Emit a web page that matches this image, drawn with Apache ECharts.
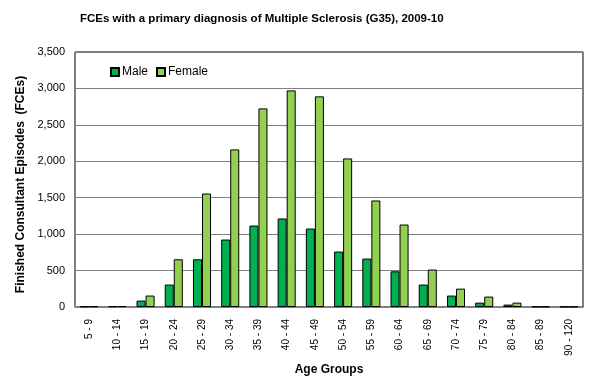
<!DOCTYPE html>
<html>
<head>
<meta charset="utf-8">
<script src="https://cdn.jsdelivr.net/npm/echarts@6/dist/echarts.min.js"></script>
<style>html,body{margin:0;padding:0;background:#fff;}#c{width:599px;height:378px;}</style>
</head>
<body>
<div id="c"></div>
<script>
const categories = ["5 - 9","10 - 14","15 - 19","20 - 24","25 - 29","30 - 34","35 - 39","40 - 44","45 - 49","50 - 54","55 - 59","60 - 64","65 - 69","70 - 74","75 - 79","80 - 84","85 - 89","90 - 120"];
const maleValues = [8, 10, 88, 308, 655, 926, 1118, 1215, 1077, 761, 665, 490, 308, 157, 60, 33, 6, 4];
const femaleValues = [10, 12, 157, 655, 1558, 2163, 2726, 2973, 2891, 2039, 1462, 1132, 514, 252, 143, 60, 6, 4];
const yTicks = [0, 500, 1000, 1500, 2000, 2500, 3000, 3500];

const chart = echarts.init(document.getElementById('c'), null, {renderer: 'canvas'});
const font = 'Arial, "Liberation Sans", sans-serif';
chart.setOption({
  animation: false,
  backgroundColor: '#fff',
  title: {
    text: 'FCEs with a primary diagnosis of Multiple Sclerosis (G35), 2009-10',
    left: 75, top: 8,
    textStyle: {fontFamily: font, fontSize: 11.5, fontWeight: 'bold', color: '#000'}
  },
  legend: {
    left: 105, top: 61,
    itemWidth: 8, itemHeight: 8, itemGap: 8,
    icon: 'rect',
    textStyle: {fontFamily: font, fontSize: 12, color: '#000', padding: [0,0,0,-2]},
    data: ['Male', 'Female']
  },
  grid: {
    left: 75, right: 16, top: 52, bottom: 71,
    containLabel: false,
    outerBoundsMode: 'none',
    show: true, borderColor: '#000', borderWidth: 1
  },
  xAxis: {
    type: 'category',
    data: categories,
    name: 'Age Groups',
    nameLocation: 'middle',
    nameGap: 53,
    nameTextStyle: {fontFamily: font, fontSize: 12, fontWeight: 'bold', color: '#000'},
    axisLine: {lineStyle: {color: '#808080'}},
    axisTick: {show: false},
    axisLabel: {rotate: 90, fontFamily: font, fontSize: 10, color: '#000', margin: 12, interval: 0}
  },
  yAxis: {
    type: 'value',
    min: yTicks[0], max: yTicks[yTicks.length-1], interval: 500,
    name: 'Finished Consultant Episodes  (FCEs)',
    nameLocation: 'middle',
    nameGap: 46,
    nameTextStyle: {fontFamily: font, fontSize: 12, fontWeight: 'bold', color: '#000', padding: [0, 10, 0, 0]},
    axisLine: {show: true, lineStyle: {color: '#808080'}},
    axisTick: {show: false},
    splitLine: {lineStyle: {color: '#808080'}},
    axisLabel: {
      fontFamily: font, fontSize: 11, color: '#000', margin: 10,
      formatter: v => v.toLocaleString('en-US')
    }
  },
  series: [
    {name: 'Male', type: 'bar', data: maleValues, barGap: '0%', barCategoryGap: '36%',
     itemStyle: {color: '#00B050', borderColor: '#000', borderWidth: 1}},
    {name: 'Female', type: 'bar', data: femaleValues,
     itemStyle: {color: '#92D050', borderColor: '#000', borderWidth: 1}}
  ]
});
</script>
</body>
</html>
